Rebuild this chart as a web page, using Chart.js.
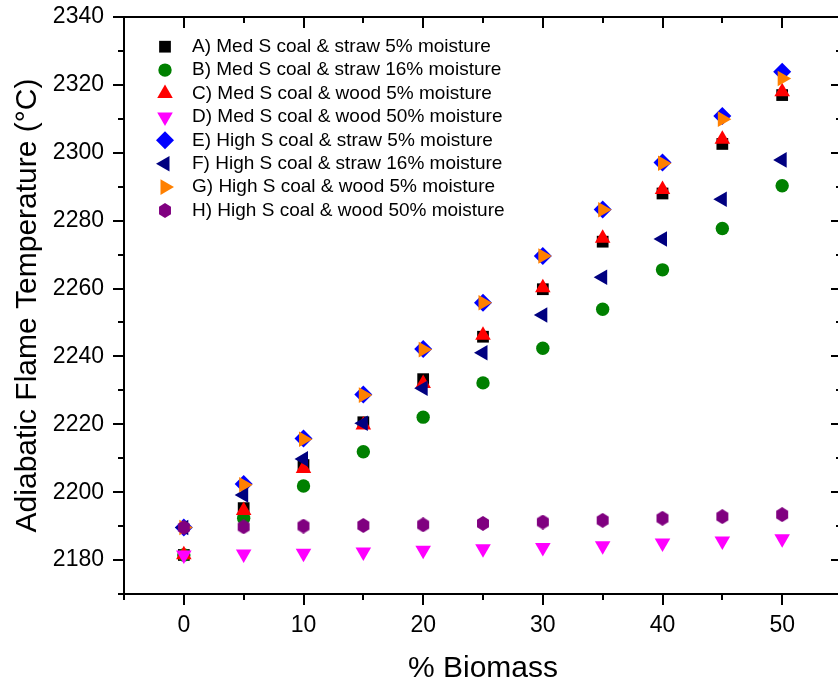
<!DOCTYPE html>
<html>
<head>
<meta charset="utf-8">
<script src="https://cdn.jsdelivr.net/npm/chart.js@4.4.0/dist/chart.umd.min.js"></script>
<style>
  html, body { margin: 0; padding: 0; overflow: hidden; background: #fff; }
  #myChart { display: block; }
</style>
</head>
<body>
<canvas id="myChart" width="846" height="685"></canvas>
<script>
// % biomass
var biomass = [0, 5, 10, 15, 20, 25, 30, 35, 40, 45, 50];

var seriesNames = [
  "A) Med S coal & straw 5% moisture",
  "B) Med S coal & straw 16% moisture",
  "C) Med S coal & wood 5% moisture",
  "D) Med S coal & wood 50% moisture",
  "E) High S coal & straw 5% moisture",
  "F) High S coal & straw 16% moisture",
  "G) High S coal & wood 5% moisture",
  "H) High S coal & wood 50% moisture"
];

// adiabatic flame temperature (°C)
var tempA = [2181.5, 2195.3, 2208.0, 2220.6, 2233.3, 2245.8, 2259.8, 2273.8, 2288.0, 2302.6, 2317.0];
var tempB = [2181.5, 2192.3, 2201.8, 2211.9, 2222.1, 2232.2, 2242.4, 2253.9, 2265.5, 2277.7, 2290.3];
var tempC = [2181.6, 2194.6, 2207.0, 2219.8, 2232.0, 2246.2, 2260.2, 2274.8, 2289.2, 2304.0, 2318.0];
var tempD = [2181.5, 2181.8, 2182.0, 2182.4, 2182.9, 2183.3, 2183.7, 2184.2, 2185.0, 2185.6, 2186.3];
var tempE = [2189.6, 2202.4, 2215.8, 2228.8, 2242.2, 2255.8, 2269.6, 2283.3, 2297.1, 2310.8, 2323.9];
var tempF = [2189.6, 2199.2, 2209.8, 2220.3, 2230.6, 2241.1, 2252.2, 2263.3, 2274.6, 2286.3, 2297.9];
var tempG = [2189.6, 2202.2, 2215.6, 2228.6, 2242.0, 2255.8, 2269.6, 2283.2, 2296.9, 2309.9, 2321.9];
var tempH = [2189.6, 2189.8, 2190.0, 2190.2, 2190.4, 2190.8, 2191.2, 2191.7, 2192.3, 2192.8, 2193.4];

var seriesValues = [tempA, tempB, tempC, tempD, tempE, tempF, tempG, tempH];
var colors = ["#000000", "#008000", "#ff0000", "#ff00ff", "#0000ff", "#000080", "#ff8000", "#800080"];

var FONT = "'Liberation Sans', Arial, sans-serif";

// hexagon marker
var hex = document.createElement("canvas");
hex.width = 14; hex.height = 15;
(function () {
  var c = hex.getContext("2d");
  c.fillStyle = "#800080";
  c.beginPath();
  for (var i = 0; i < 6; i++) {
    var a = Math.PI / 3 * i - Math.PI / 2;
    var px = 7 + 6.9 * Math.cos(a), py = 7.5 + 7.4 * Math.sin(a);
    if (i === 0) c.moveTo(px, py); else c.lineTo(px, py);
  }
  c.closePath();
  c.fill();
})();

var markers = [
  { style: "rect", rot: 0, r: 8.3 },
  { style: "circle", rot: 0, r: 6.7 },
  { style: "triangle", rot: 0, r: 9 },
  { style: "triangle", rot: 180, r: 9 },
  { style: "rectRot", rot: 0, r: 9 },
  { style: "triangle", rot: 270, r: 9 },
  { style: "triangle", rot: 90, r: 9 },
  { style: hex, rot: 0, r: 7 }
];

var datasets = seriesNames.map(function (name, i) {
  return {
    label: name,
    data: biomass.map(function (b, j) { return { x: b, y: seriesValues[i][j] }; }),
    pointStyle: markers[i].style,
    rotation: markers[i].rot,
    pointRadius: markers[i].r,
    pointHoverRadius: markers[i].r,
    backgroundColor: colors[i],
    borderColor: colors[i],
    borderWidth: 0,
    showLine: false,
    order: 7 - i
  };
});

// frame, ticks on all four sides
var framePlugin = {
  id: "frame",
  afterDraw: function (chart) {
    var ctx = chart.ctx, a = chart.chartArea;
    var xs = chart.scales.x, ys = chart.scales.y;
    ctx.save();
    ctx.strokeStyle = "#000";
    ctx.lineWidth = 2;
    ctx.beginPath();
    for (var v = 2170; v <= 2340; v += 10) {
      var py = Math.round(ys.getPixelForValue(v));
      var len = (v % 20 === 0) ? 11 : 6;
      ctx.moveTo(a.left - len, py); ctx.lineTo(a.left, py);
      ctx.moveTo(a.right, py); ctx.lineTo(a.right - len, py);
    }
    for (var b = -5; b <= 55; b += 5) {
      var px = Math.round(xs.getPixelForValue(b));
      var l2 = (b % 10 === 0) ? 11 : 6;
      ctx.moveTo(px, a.bottom); ctx.lineTo(px, a.bottom + l2);
      ctx.moveTo(px, a.top); ctx.lineTo(px, a.top + l2);
    }
    ctx.stroke();
    ctx.strokeRect(a.left, a.top, a.right - a.left, a.bottom - a.top);
    ctx.restore();
  }
};

// legend inside the plot
var legendPlugin = {
  id: "insideLegend",
  afterDatasetsDraw: function (chart) {
    var ctx = chart.ctx;
    ctx.save();
    ctx.font = "19px " + FONT;
    ctx.textBaseline = "middle";
    ctx.textAlign = "left";
    chart.data.datasets.forEach(function (ds, i) {
      var y = 46.7 + i * 23.4;
      ctx.fillStyle = ds.backgroundColor;
      Chart.helpers.drawPoint(ctx, {
        pointStyle: ds.pointStyle, rotation: ds.rotation,
        radius: ds.pointRadius, borderWidth: 0
      }, 165, y);
      ctx.fillStyle = "#000";
      ctx.fillText(ds.label, 192, y);
    });
    ctx.restore();
  }
};

new Chart("myChart", {
  type: "scatter",
  data: { datasets: datasets },
  options: {
    responsive: false,
    animation: false,
    layout: { autoPadding: false, padding: { top: 17, right: 4, left: 0, bottom: 0 } },
    plugins: {
      legend: { display: false },
      tooltip: { enabled: false }
    },
    scales: {
      x: {
        type: "linear",
        min: -5, max: 55,
        afterFit: function (s) { s.height = 91; },
        border: { display: false },
        grid: { drawOnChartArea: false, drawTicks: true, tickLength: 18, color: "transparent" },
        ticks: {
          stepSize: 5, autoSkip: false, maxRotation: 0, padding: 0,
          color: "#000", font: { family: FONT, size: 23 },
          callback: function (v) { return v % 10 === 0 ? v : ""; }
        },
        title: {
          display: true, text: "% Biomass", color: "#000",
          font: { family: FONT, size: 30 }, padding: { top: 0, bottom: -2 }
        }
      },
      y: {
        min: 2170, max: 2340,
        afterFit: function (s) { s.width = 124; },
        border: { display: false },
        grid: { drawOnChartArea: false, drawTicks: true, tickLength: 20, color: "transparent" },
        ticks: {
          stepSize: 10, autoSkip: false, padding: 0,
          color: "#000", font: { family: FONT, size: 23 },
          callback: function (v) { return v % 20 === 0 ? v : ""; }
        },
        title: {
          display: true, text: "Adiabatic Flame Temperature (\u00B0C)", color: "#000",
          font: { family: FONT, size: 30 }, padding: { top: 10, bottom: 0 }
        }
      }
    }
  },
  plugins: [framePlugin, legendPlugin]
});
</script>
</body>
</html>
